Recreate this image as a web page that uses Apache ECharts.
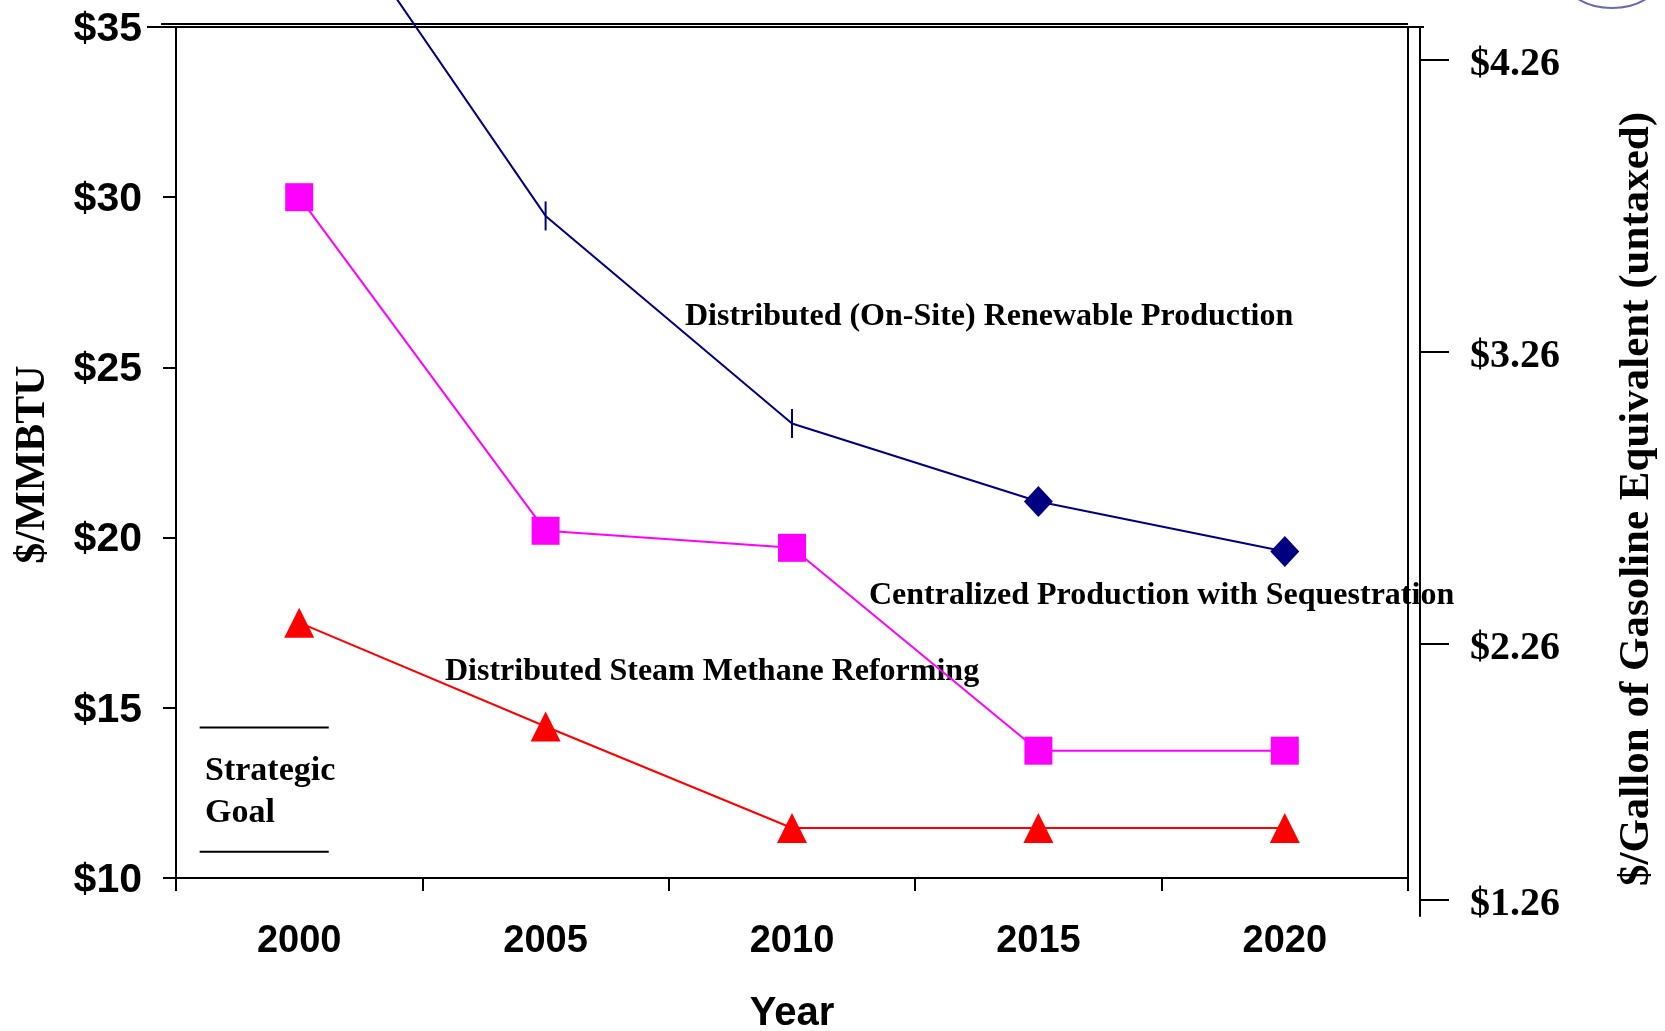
<!DOCTYPE html>
<html><head><meta charset="utf-8">
<script src="https://cdn.jsdelivr.net/npm/echarts@6/dist/echarts.min.js"></script>
<style>html,body{margin:0;padding:0;background:#fff}#c{width:1665px;height:1031px}</style>
</head><body><div id="c"></div>
<script>
// ---- data ----
const years = ['2000', '2005', '2010', '2015', '2020'];
const renewable = [40.0, 29.45, 23.35, 21.06, 19.59];      // Distributed (On-Site) Renewable Production
const renewableSymbols = ['none', 'rect', 'rect', 'diamond', 'diamond'];
const sequestration = [30.0, 20.2, 19.7, 13.74, 13.74];     // Centralized Production with Sequestration
const smr = [17.5, 14.45, 11.47, 11.47, 11.47];              // Distributed Steam Methane Reforming
const gallonLabels = ['$1.26', '$2.26', '$3.26', '$4.26'];
const gallonTickAt = [9.35, 16.87, 25.45, 34.04];            // where those labels sit on the $/MMBTU scale
const goalBand = [10.77, 14.42];                             // Strategic Goal bracket

const SERIF = 'Liberation Serif';
const SANS = 'Liberation Sans';

const chart = echarts.init(document.getElementById('c'), null, {renderer: 'canvas'});

const renewableData = renewable.map((v, i) => {
  const s = renewableSymbols[i];
  return {
    value: v,
    symbol: s,
    symbolSize: s === 'rect' ? [2, 29] : (s === 'diamond' ? [29, 31] : 0)
  };
});

const option = {
  backgroundColor: '#fff',
  animation: false,
  grid: [
    {left: 176, top: 27, width: 1232, height: 851, show: true, borderColor: '#000', borderWidth: 2, backgroundColor: 'transparent', containLabel: false, outerBoundsMode: 'none'},
    {left: 1300, top: 27, width: 120, height: 889, show: false, containLabel: false, outerBoundsMode: 'none'}
  ],
  xAxis: [
    {
      type: 'category', data: years, gridIndex: 0, boundaryGap: true,
      axisLine: {show: true, lineStyle: {color: '#000', width: 2}},
      axisTick: {show: true, interval: 0, length: 13, lineStyle: {color: '#000', width: 2}},
      axisLabel: {interval: 0, color: '#000', fontFamily: SANS, fontWeight: 'bold', fontSize: 38, margin: 45},
      splitLine: {show: false},
      name: 'Year', nameLocation: 'middle', nameGap: 116,
      nameTextStyle: {fontFamily: SANS, fontWeight: 'bold', fontSize: 40, color: '#000'}
    },
    {type: 'value', gridIndex: 0, min: 0, max: 5, show: false},
    {type: 'value', gridIndex: 1, min: 0, max: 1, show: false}
  ],
  yAxis: [
    {
      type: 'value', gridIndex: 0, min: 10, max: 35, interval: 5,
      axisLine: {show: true, lineStyle: {color: '#000', width: 2}},
      axisTick: {show: true, length: 13, lineStyle: {color: '#000', width: 2}},
      splitLine: {show: false},
      axisLabel: {formatter: v => '$' + v, color: '#000', fontFamily: SANS, fontWeight: 'bold', fontSize: 41, margin: 34, verticalAlign: 'top', lineHeight: 5},
      name: '$/MMBTU', nameLocation: 'middle', nameGap: 122, nameRotate: 90,
      nameTextStyle: {fontFamily: SERIF, fontWeight: 'bold', fontSize: 42, color: '#000', padding: [0, 24, 0, 0]}
    },
    {
      type: 'value', gridIndex: 1, position: 'right', min: 8.88, max: 35,
      axisLine: {show: true, onZero: false, lineStyle: {color: '#000', width: 2}},
      axisTick: {show: true, length: 29, customValues: gallonTickAt, lineStyle: {color: '#000', width: 2}},
      axisLabel: {
        customValues: gallonTickAt,
        formatter: v => {
          let best = 0;
          gallonTickAt.forEach((t, i) => { if (Math.abs(t - v) < Math.abs(gallonTickAt[best] - v)) best = i; });
          return gallonLabels[best];
        },
        margin: 50, verticalAlign: 'top', lineHeight: 9, color: '#000', fontFamily: SERIF, fontWeight: 'bold', fontSize: 40
      },
      splitLine: {show: false},
      name: '$/Gallon of Gasoline Equivalent (untaxed)', nameLocation: 'middle', nameGap: 195, nameRotate: 90,
      nameTextStyle: {fontFamily: SERIF, fontWeight: 'bold', fontSize: 43, color: '#000', padding: [0, 55, 0, 0]}
    }
  ],
  series: [
    {
      name: 'Distributed (On-Site) Renewable Production', type: 'line',
      xAxisIndex: 0, yAxisIndex: 0, data: renewableData, clip: false,
      lineStyle: {color: '#000080', width: 2}, itemStyle: {color: '#000080'},
      showAllSymbol: true, z: 3
    },
    {
      name: 'Centralized Production with Sequestration', type: 'line',
      xAxisIndex: 0, yAxisIndex: 0, data: sequestration,
      symbol: 'rect', symbolSize: 28,
      lineStyle: {color: '#FF00FF', width: 2}, itemStyle: {color: '#FF00FF'}, z: 3
    },
    {
      name: 'Distributed Steam Methane Reforming', type: 'line',
      xAxisIndex: 0, yAxisIndex: 0, data: smr,
      symbol: 'triangle', symbolSize: [30, 30],
      lineStyle: {color: '#FF0000', width: 2}, itemStyle: {color: '#FF0000'}, z: 3
    },
    {
      name: 'Strategic Goal (high)', type: 'line', xAxisIndex: 1, yAxisIndex: 0,
      data: [[0.096, goalBand[1]], [0.62, goalBand[1]]], symbol: 'none',
      lineStyle: {color: '#000', width: 2}, silent: true
    },
    {
      name: 'Strategic Goal (low)', type: 'line', xAxisIndex: 1, yAxisIndex: 0,
      data: [[0.096, goalBand[0]], [0.62, goalBand[0]]], symbol: 'none',
      lineStyle: {color: '#000', width: 2}, silent: true
    }
  ],
  graphic: [
    {type: 'line', shape: {x1: 161, y1: 24, x2: 1408, y2: 24}, style: {stroke: '#000', lineWidth: 2}, silent: true},
    {type: 'line', shape: {x1: 147, y1: 27, x2: 176, y2: 27}, style: {stroke: '#000', lineWidth: 2}, silent: true},
    {type: 'line', shape: {x1: 1408, y1: 27, x2: 1424, y2: 27}, style: {stroke: '#000', lineWidth: 2}, silent: true},
    {type: 'ellipse', shape: {cx: 1612, cy: -20, rx: 46, ry: 28}, style: {fill: '#fff', stroke: '#6a6ab4', lineWidth: 2}, silent: true},
    {type: 'text', x: 685, y: 317, style: {text: 'Distributed (On-Site) Renewable Production', font: 'bold 32px "Liberation Serif"', fill: '#000', verticalAlign: 'middle', align: 'left'}},
    {type: 'text', x: 869, y: 596, style: {text: 'Centralized Production with Sequestration', font: 'bold 32px "Liberation Serif"', fill: '#000', verticalAlign: 'middle', align: 'left'}},
    {type: 'text', x: 445, y: 672, style: {text: 'Distributed Steam Methane Reforming', font: 'bold 32px "Liberation Serif"', fill: '#000', verticalAlign: 'middle', align: 'left'}},
    {type: 'text', x: 205, y: 771, style: {text: 'Strategic', font: 'bold 34px "Liberation Serif"', fill: '#000', verticalAlign: 'middle', align: 'left'}},
    {type: 'text', x: 205, y: 813, style: {text: 'Goal', font: 'bold 34px "Liberation Serif"', fill: '#000', verticalAlign: 'middle', align: 'left'}}
  ]
};
chart.setOption(option);
</script>
</body></html>
